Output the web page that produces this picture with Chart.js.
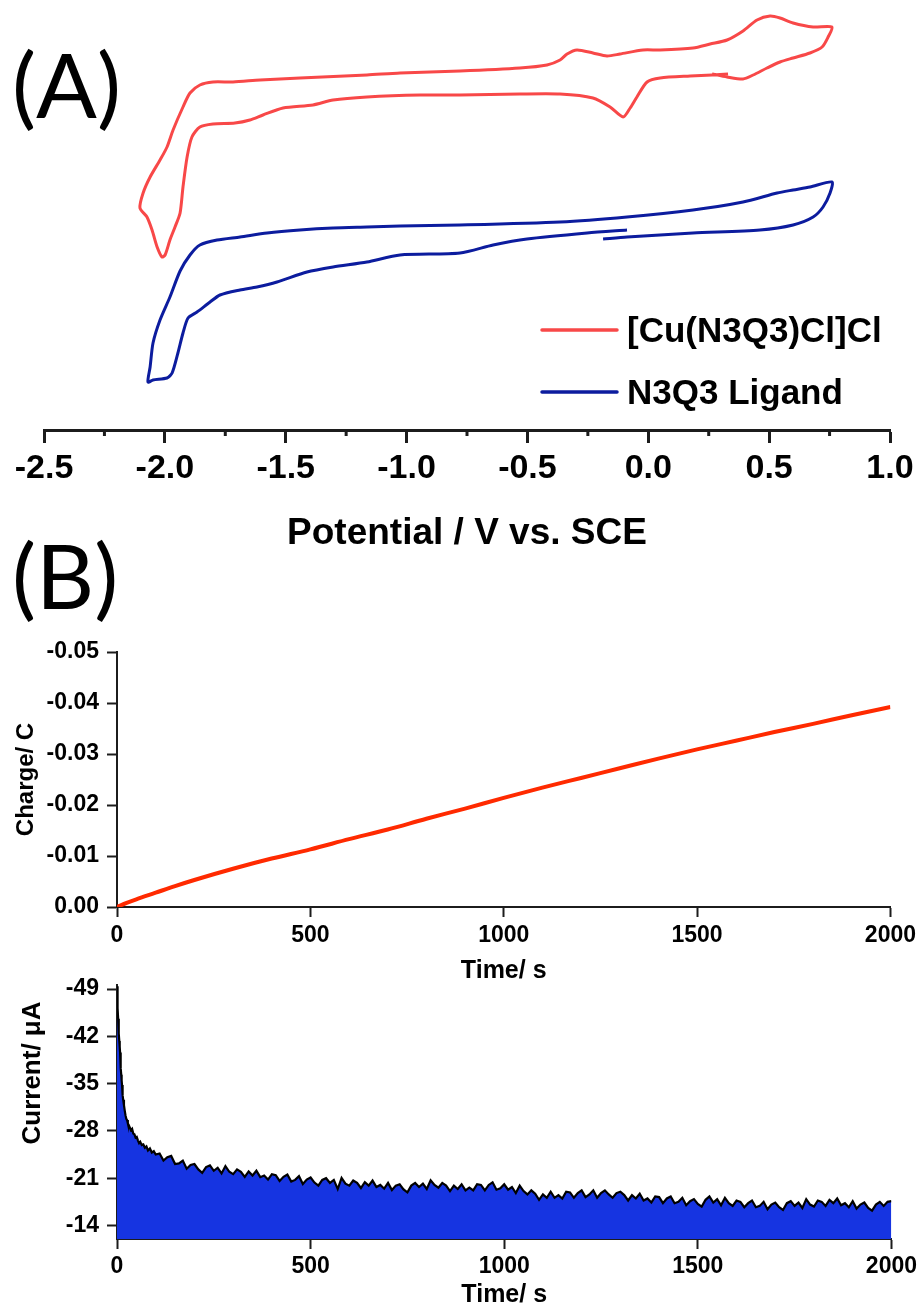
<!DOCTYPE html>
<html>
<head>
<meta charset="utf-8">
<script src="https://cdn.jsdelivr.net/npm/chart.js@4.4.1/dist/chart.umd.min.js"></script>
<style>
html,body{margin:0;padding:0;background:#fff;width:921px;height:1306px;overflow:hidden;}
canvas{position:absolute;left:0;top:0;}
</style>
</head>
<body>
<canvas id="cA" width="921" height="1330"></canvas>
<canvas id="cB1" width="921" height="1330"></canvas>
<canvas id="cB2" width="921" height="1330"></canvas>
<script>
// ---------- Panel A: cyclic voltammograms (current in arbitrary units) ----------
const cuPotential = [0.264,0.326,0.392,0.434,0.491,0.545,0.599,0.669,0.719,0.744,0.760,0.682,0.599,0.545,0.504,0.450,0.392,0.326,0.256,0.185,0.049,-0.022,-0.117,-0.171,-0.229,-0.295,-0.336,-0.365,-0.419,-0.531,-0.779,-1.027,-1.164,-1.441,-1.606,-1.718,-1.801,-1.855,-1.896,-1.925,-1.966,-1.991,-2.020,-2.061,-2.090,-2.103,-2.074,-2.053,-2.032,-2.012,-1.999,-1.979,-1.958,-1.937,-1.925,-1.908,-1.888,-1.855,-1.801,-1.710,-1.648,-1.594,-1.511,-1.387,-1.304,-1.164,-0.944,-0.779,-0.531,-0.365,-0.229,-0.158,-0.104,-0.075,-0.047,-0.005,0.049,0.173,0.264,0.330];
const cuCurrent = [34.6,34.3,34.1,34.5,35.2,35.8,36.2,36.7,37.3,38.3,39.3,39.3,39.7,40.2,40.4,40.0,38.9,38.0,37.6,37.2,37.0,37.0,36.6,36.4,36.7,37.0,36.6,36.0,35.5,35.2,34.9,34.7,34.5,34.2,34.0,33.8,33.8,33.5,32.7,31.3,29.0,27.3,26.0,24.3,22.7,21.2,20.3,19.0,17.3,16.3,16.5,18.0,19.3,20.7,23.3,26.3,28.3,29.3,29.6,29.7,30.0,30.5,31.2,31.5,32.0,32.3,32.5,32.5,32.6,32.6,32.2,31.3,30.3,31.2,32.3,33.8,34.2,34.4,34.5,34.6];
const ligandPotential = [-0.187,-0.088,0.185,0.462,0.599,0.682,0.723,0.752,0.760,0.669,0.599,0.533,0.392,0.185,-0.088,-0.365,-0.779,-1.027,-1.164,-1.304,-1.441,-1.577,-1.689,-1.784,-1.855,-1.896,-1.937,-1.979,-2.020,-2.049,-2.061,-2.070,-2.049,-1.991,-1.970,-1.946,-1.925,-1.904,-1.867,-1.813,-1.772,-1.689,-1.619,-1.536,-1.412,-1.304,-1.164,-1.027,-0.779,-0.642,-0.502,-0.253,-0.088];
const ligandCurrent = [18.1,18.3,18.7,19.0,19.5,20.3,21.3,22.7,23.8,23.3,23.0,22.7,21.8,21.0,20.3,19.8,19.5,19.4,19.3,19.2,19.0,18.7,18.3,18.0,17.5,16.5,14.9,12.3,10.0,7.7,5.3,3.8,4.0,4.2,4.7,6.7,8.7,10.2,10.8,11.8,12.5,13.0,13.3,13.8,14.8,15.3,15.8,16.5,16.7,17.5,18.1,18.7,19.0];
const seriesNames = ['[Cu(N3Q3)Cl]Cl', 'N3Q3 Ligand'];
const potentialMinorTicks = [-2.25,-1.75,-1.25,-0.75,-0.25,0.25,0.75];

// ---------- Panel B: charge vs time ----------
const chargeTime = [0,25,50,100,150,200,300,400,500,600,700,800,900,1000,1100,1200,1300,1400,1500,1600,1700,1800,1900,2000];
const chargeValues = [0,-0.0008,-0.0015,-0.0028,-0.0041,-0.0053,-0.0075,-0.0095,-0.0113,-0.0133,-0.0152,-0.0173,-0.0193,-0.0214,-0.0234,-0.0253,-0.0272,-0.0291,-0.0309,-0.0326,-0.0343,-0.0359,-0.0376,-0.0392];

// ---------- Panel B: current vs time ----------
const currentTime = [0,1,2,3,4,5,6,7,8,9,10,11,12,13,14,15,16,18,20,22,24,26,28,30,33,36,39,42,45,48,51,54,57,60,64,68,72,76,80,85,90,95,100,
110,120,130,140,150,160,170,180,190,200,210,220,230,240,250,260,270,280,290,300,310,320,330,340,350,360,370,380,390,400,
410,420,430,440,450,460,470,480,490,500,510,520,530,540,550,560,570,580,590,600,610,620,630,640,650,660,670,680,690,700,
710,720,730,740,750,760,770,780,790,800,810,820,830,840,850,860,870,880,890,900,910,920,930,940,950,960,970,980,990,1000,
1010,1020,1030,1040,1050,1060,1070,1080,1090,1100,1110,1120,1130,1140,1150,1160,1170,1180,1190,1200,1210,1220,1230,1240,1250,1260,1270,1280,1290,1300,
1310,1320,1330,1340,1350,1360,1370,1380,1390,1400,1410,1420,1430,1440,1450,1460,1470,1480,1490,1500,1510,1520,1530,1540,1550,1560,1570,1580,1590,1600,
1610,1620,1630,1640,1650,1660,1670,1680,1690,1700,1710,1720,1730,1740,1750,1760,1770,1780,1790,1800,1810,1820,1830,1840,1850,1860,1870,1880,1890,1900,
1910,1920,1930,1940,1950,1960,1970,1980,1990,2000];
const currentValues = [-49.4,-47.8,-46.2,-44.6,-43.3,-42.4,-41.3,-40.5,-39.6,-38.4,-37.3,-36.3,-35.5,-34.8,-34.0,-33.3,-32.6,-31.8,-31.0,-30.3,-29.8,-29.6,-29.1,-28.9,-28.5,-28.1,-28.3,-27.6,-27.5,-27.0,-27.1,-26.6,-26.2,-26.4,-25.9,-26.0,-25.5,-25.7,-25.1,-25.4,-24.8,-25.0,-24.5,
-24.65,-23.6,-24.1,-24.3,-23.1,-23.2,-23.6,-22.4,-22.95,-23.1,-22.3,-21.8,-22.65,-22.9,-22.1,-22.55,-21.7,-22.8,-21.95,-21.6,-22.3,-21.95,-21.2,-22.0,-21.4,-22.1,-21.15,-21.4,-20.8,-21.6,
-21.45,-20.6,-21.2,-21.55,-20.5,-20.75,-21.3,-20.15,-20.8,-21.1,-20.35,-19.9,-20.75,-21.0,-20.3,-20.75,-19.4,-21.05,-20.2,-19.9,-20.65,-20.3,-19.55,-20.4,-19.9,-20.65,-19.7,-20.0,-19.45,-20.3,
-19.25,-19.9,-20.1,-19.35,-18.9,-19.9,-20.3,-19.7,-20.2,-19.4,-20.7,-20.0,-19.6,-20.3,-19.9,-19.1,-19.9,-19.4,-20.1,-19.2,-19.6,-19.2,-20.1,-20.0,-19.2,-20.0,-20.4,-19.3,-19.5,-20.1,
-19.3,-19.7,-18.8,-19.9,-19.1,-18.6,-19.2,-18.7,-17.8,-18.6,-18.1,-19.0,-18.1,-18.5,-18.0,-19.0,-18.9,-18.1,-18.8,-19.2,-18.2,-18.6,-19.2,-18.1,-18.8,-19.2,-18.6,-18.1,-18.8,-19.0,
-18.5,-17.7,-18.5,-18.0,-18.7,-17.7,-18.0,-17.4,-18.3,-18.2,-17.3,-18.0,-18.3,-17.3,-17.5,-18.1,-17.0,-17.6,-17.9,-17.2,-16.8,-17.8,-18.3,-17.4,-17.9,-17.0,-18.1,-17.3,-16.9,-17.7,
-17.5,-16.7,-17.3,-17.7,-16.7,-16.9,-17.5,-16.4,-17.1,-17.4,-16.7,-16.3,-17.3,-17.6,-16.9,-17.4,-16.6,-17.9,-17.1,-16.8,-17.7,-17.5,-16.9,-17.8,-17.3,-18.0,-17.0,-17.3,-16.7,-17.6,
-16.5,-17.1,-17.4,-16.6,-16.2,-17.1,-17.5,-16.9,-17.5,-17.6];

// ---------- plugins ----------
const textPlugin = {
  id: 'panelText',
  afterDraw(chart, args, opts) {
    const ctx = chart.ctx;
    (opts.items || []).forEach(it => {
      ctx.save();
      ctx.font = it.font;
      ctx.fillStyle = it.color || '#000';
      ctx.textAlign = it.align || 'left';
      ctx.textBaseline = it.baseline || 'alphabetic';
      ctx.translate(it.x, it.y);
      if (it.rotation) ctx.rotate(it.rotation);
      ctx.fillText(it.text, 0, 0);
      ctx.restore();
    });
  }
};
const minorTickPlugin = {
  id: 'minorTicks',
  afterDraw(chart, args, opts) {
    const s = chart.scales.x, ctx = chart.ctx;
    ctx.save();
    ctx.strokeStyle = opts.color; ctx.lineWidth = opts.width;
    opts.values.forEach(v => {
      const px = s.getPixelForValue(v);
      ctx.beginPath(); ctx.moveTo(px, s.top); ctx.lineTo(px, s.top + opts.length); ctx.stroke();
    });
    ctx.restore();
  }
};
const cvLegendPlugin = {
  id: 'cvLegend',
  afterDraw(chart, args, opts) {
    const ctx = chart.ctx;
    chart.data.datasets.forEach((ds, i) => {
      const y = opts.y + i * opts.spacing;
      ctx.save();
      ctx.strokeStyle = ds.borderColor; ctx.lineWidth = 3.5; ctx.lineCap = 'round';
      ctx.beginPath(); ctx.moveTo(opts.x, y); ctx.lineTo(opts.x + opts.lineLen, y); ctx.stroke();
      ctx.fillStyle = '#000'; ctx.font = opts.font; ctx.textBaseline = 'middle'; ctx.textAlign = 'left';
      ctx.fillText(ds.label, opts.x + opts.lineLen + opts.gap, y + opts.textDy);
      ctx.restore();
    });
  }
};

Chart.defaults.font.family = "'Liberation Sans', Arial, sans-serif";
Chart.defaults.color = '#000';
const AX = '#1c1c1c';
const fmt = d => v => (Math.abs(v) < 1e-9 ? 0 : v).toFixed(d);
const plain = v => String(Math.round(v));

// ---------- Chart A ----------
new Chart(document.getElementById('cA'), {
  type: 'line',
  data: { datasets: [
    { label: seriesNames[0], data: cuPotential.map((x, i) => ({x, y: cuCurrent[i]})), borderColor: '#f84848', borderWidth: 3, pointRadius: 0, tension: 0.25, fill: false },
    { label: seriesNames[1], data: ligandPotential.map((x, i) => ({x, y: ligandCurrent[i]})), borderColor: '#0c1c9e', borderWidth: 3, pointRadius: 0, tension: 0.25, fill: false }
  ]},
  options: {
    responsive: false, animation: false, events: [],
    layout: { padding: { left: 44, right: 31, top: 0, bottom: 770 } },
    plugins: {
      legend: { display: false }, tooltip: { enabled: false },
      panelText: { items: [ { text: '(A)', x: 12, y: 118, font: "90px Lato" } ] },
      minorTicks: { values: potentialMinorTicks, length: 6, width: 3, color: AX },
      cvLegend: { x: 542, y: 330, spacing: 62, lineLen: 75, gap: 10, textDy: 2, font: "bold 35px 'Liberation Sans', Arial, sans-serif" }
    },
    scales: {
      x: { type: 'linear', min: -2.5, max: 1.0, position: 'bottom',
        afterFit: s => { s.height = 130; },
        border: { display: true, color: AX, width: 3 },
        grid: { drawOnChartArea: false, drawTicks: true, tickLength: 13, tickWidth: 3, tickColor: AX },
        ticks: { stepSize: 0.5, padding: 5, color: '#000', autoSkip: false, maxRotation: 0, font: { size: 34, weight: 'bold' }, callback: fmt(1) },
        title: { display: true, text: 'Potential / V vs. SCE', color: '#000', font: { size: 37, weight: 'bold' }, padding: { top: 4, bottom: 4 } }
      },
      y: { type: 'linear', display: false, min: -1, max: 42 }
    }
  },
  plugins: [textPlugin, minorTickPlugin, cvLegendPlugin]
});

// ---------- Chart B1: charge ----------
new Chart(document.getElementById('cB1'), {
  type: 'line',
  data: { datasets: [
    { label: 'Charge', data: chargeTime.map((x, i) => ({x, y: chargeValues[i]})), borderColor: '#ff2a00', borderWidth: 4, pointRadius: 0, cubicInterpolationMode: 'monotone', fill: false }
  ]},
  options: {
    responsive: false, animation: false, events: [],
    layout: { padding: { left: 8, right: 29, top: 652, bottom: 340 } },
    plugins: {
      legend: { display: false }, tooltip: { enabled: false },
      panelText: { items: [ { text: '(B)', x: 12, y: 609, font: "90px Lato" } ] }
    },
    scales: {
      x: { type: 'linear', min: 0, max: 2000,
        afterFit: s => { s.height = 83; },
        border: { display: true, color: AX, width: 2 },
        grid: { drawOnChartArea: false, tickLength: 10, tickWidth: 2, tickColor: AX },
        ticks: { stepSize: 500, padding: 5, autoSkip: false, maxRotation: 0, font: { size: 23, weight: 'bold' }, callback: plain },
        title: { display: true, text: 'Time/ s', font: { size: 25, weight: 'bold' }, padding: { top: 4, bottom: 4 } }
      },
      y: { type: 'linear', reverse: true, min: -0.05, max: 0,
        afterFit: s => { s.width = 109; },
        border: { display: true, color: AX, width: 2 },
        grid: { drawOnChartArea: false, tickLength: 10, tickWidth: 2, tickColor: AX },
        ticks: { stepSize: 0.01, padding: 8, font: { size: 23, weight: 'bold' }, callback: fmt(2) },
        title: { display: true, text: 'Charge/ C', font: { size: 24, weight: 'bold' }, padding: { top: 4, bottom: 4 } }
      }
    }
  },
  plugins: [textPlugin]
});

// ---------- Chart B2: current ----------
new Chart(document.getElementById('cB2'), {
  type: 'line',
  data: { datasets: [
    { label: 'Current', data: currentTime.map((x, i) => ({x, y: currentValues[i]})), borderColor: '#000', borderWidth: 2.2, pointRadius: 0, tension: 0, fill: 'start', backgroundColor: 'rgb(22,52,225)' }
  ]},
  options: {
    responsive: false, animation: false, events: [],
    layout: { padding: { left: 8, right: 29, top: 985, bottom: 16 } },
    plugins: {
      legend: { display: false }, tooltip: { enabled: false },
      panelText: { items: [ { text: 'Current/ \u03bcA', x: 33, y: 1073, rotation: -Math.PI / 2, align: 'center', baseline: 'middle', font: "bold 26px 'Liberation Sans', Arial, sans-serif" } ] }
    },
    scales: {
      x: { type: 'linear', min: 0, max: 2000,
        afterFit: s => { s.height = 75; },
        border: { display: true, color: AX, width: 2 },
        grid: { drawOnChartArea: false, tickLength: 10, tickWidth: 2, tickColor: AX },
        ticks: { stepSize: 500, padding: 4, autoSkip: false, maxRotation: 0, font: { size: 23, weight: 'bold' }, callback: plain },
        title: { display: true, text: 'Time/ s', font: { size: 25, weight: 'bold' }, padding: { top: 4, bottom: 4 } }
      },
      y: { type: 'linear', reverse: true, min: -49.6, max: -12,
        afterFit: s => { s.width = 109; },
        border: { display: true, color: AX, width: 2 },
        grid: { drawOnChartArea: false, tickLength: 10, tickWidth: 2, tickColor: AX },
        ticks: { stepSize: 7, includeBounds: false, padding: 8, font: { size: 23, weight: 'bold' } },
        title: { display: false }
      }
    }
  },
  plugins: [textPlugin]
});
</script>
</body>
</html>
